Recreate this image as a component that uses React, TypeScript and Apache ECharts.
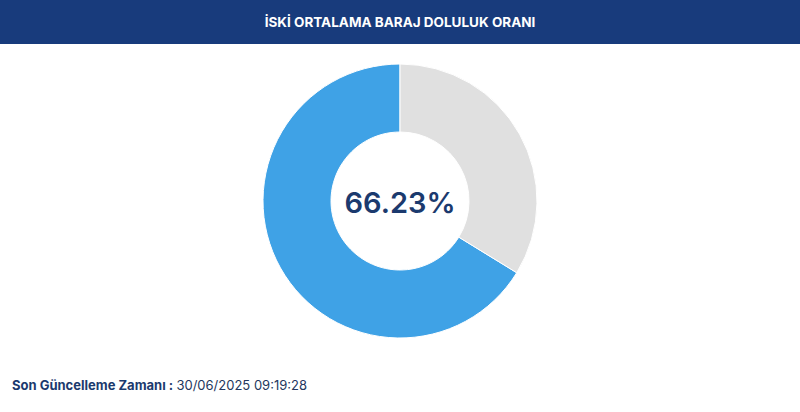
import { useEffect, useRef } from 'react'
import * as echarts from 'echarts'

// 数据
const sliceNames = ['Dolu', 'Boş']
const sliceValues = [66.23, 33.77]
const sliceColors = ['#3fa2e6', '#e0e0e0']
const centerLabel = '66.23%'
const titleText = 'İSKİ ORTALAMA BARAJ DOLULUK ORANI'
const updateLabel = 'Son Güncelleme Zamanı'
const updateTime = '30/06/2025 09:19:28'

const FONT = 'Inter, "Noto Sans", sans-serif'

export default function App() {
  const chartRef = useRef<HTMLDivElement>(null)

  useEffect(() => {
    if (!chartRef.current) return
    const chart = echarts.init(chartRef.current, undefined, { renderer: 'svg' })

    const option: echarts.EChartsOption = {
      animation: false,
      backgroundColor: '#ffffff',
      graphic: [
        {
          type: 'rect',
          shape: { x: 0, y: 0, width: 800, height: 44 },
          style: { fill: '#183b7c' },
          z: 1,
        },
        {
          type: 'text',
          x: 400,
          y: 22,
          z: 2,
          style: {
            text: titleText,
            fill: '#ffffff',
            font: `700 13.5px ${FONT}`,
            align: 'center',
            verticalAlign: 'middle',
          },
        },
        {
          type: 'text',
          x: 400,
          y: 202,
          z: 2,
          style: {
            text: centerLabel,
            fill: '#1b3a6e',
            font: `600 29px ${FONT}`,
            align: 'center',
            verticalAlign: 'middle',
          },
        },
        {
          type: 'text',
          x: 12,
          y: 385,
          z: 2,
          style: {
            text: `{b|${updateLabel} :} {n|${updateTime}}`,
            verticalAlign: 'middle',
            rich: {
              b: { font: `700 13px ${FONT}`, fill: '#1b3a6e' },
              n: { font: `400 13px ${FONT}`, fill: '#24375e' },
            },
          },
        },
      ],
      series: [
        {
          type: 'pie',
          center: [400, 201],
          radius: [69, 137],
          startAngle: 90,
          clockwise: false,
          label: { show: false },
          labelLine: { show: false },
          emphasis: { disabled: true },
          itemStyle: { borderColor: '#ffffff', borderWidth: 1 },
          data: sliceNames.map((name, i) => ({
            name,
            value: sliceValues[i],
            itemStyle: { color: sliceColors[i] },
          })),
        },
      ],
    }

    chart.setOption(option)
    return () => chart.dispose()
  }, [])

  return (
    <div
      ref={chartRef}
      style={{ position: 'absolute', left: 0, top: 0, width: '800px', height: '412px' }}
    />
  )
}
